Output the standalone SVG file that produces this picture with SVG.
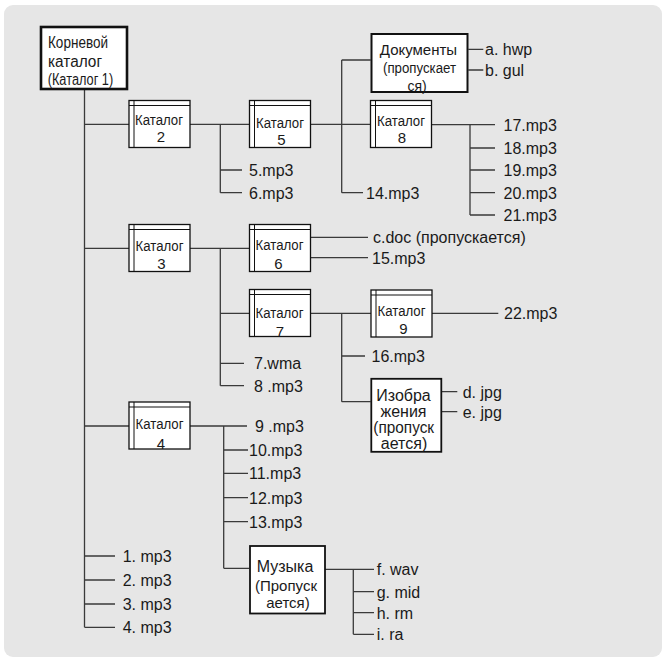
<svg xmlns="http://www.w3.org/2000/svg" width="663" height="659" viewBox="0 0 663 659">
<style>
.bg{fill:#e6e6e6}
.cat rect{fill:#fff;stroke:#111;stroke-width:1.3}
.cat path{fill:none;stroke:#111;stroke-width:1}
.box rect{fill:#fff;stroke:#111}
.t{font-family:"Liberation Sans",Arial,sans-serif;fill:#1a1a1a}
.f{font-size:16px}
.c{font-size:14px;text-anchor:middle}
.n{font-size:15px;text-anchor:middle}
.m{text-anchor:middle}
#conn path{fill:none;stroke:#3a3a3a;stroke-width:1.3}
</style>
<rect class="bg" x="4" y="5" width="658" height="652" rx="9"/>
<g id="conn">
<path d="M84.5 90V627.3M84.5 124.3H129M84.5 248.3H129M84.5 426H129M84.5 556H115M84.5 580H115M84.5 604H115M84.5 627.3H115"/>
<path d="M190 124.3H249.5M220.3 124.3V192.7M220.3 170H242M220.3 192.7H242"/>
<path d="M310.5 124.3H370.5M341.7 60V192.7M341.7 60H370.7M341.7 192.7H363"/>
<path d="M468.3 49.3H483.3M468.3 70H483.3"/>
<path d="M431.5 124.7H495M470 124.7V215M470 148H495M470 170H495M470 192.7H495M470 215H495"/>
<path d="M190 248.3H249.5M220.3 248.3V385.7M220.3 313.3H249.5M220.3 363.3H244M220.3 385.7H244"/>
<path d="M310.5 237.3H368M310.5 257.7H368"/>
<path d="M310.5 313.3H371M341.7 313.3V401.7M341.7 356H365M341.7 401.7H370.7"/>
<path d="M432 313.3H498.3"/>
<path d="M441.7 391.7H457.3M441.7 411.7H457.3"/>
<path d="M190 426H247M223.7 426V568.3M223.7 450H248M223.7 473.3H248M223.7 497.7H248M223.7 521.7H248M223.7 568.3H249.3"/>
<path d="M325 569.3H374M353.3 569.3V634.3M353.3 591.7H374M353.3 612.7H374M353.3 634.3H374"/>
</g>
<g id="root" class="box">
<rect x="41" y="27" width="86" height="62" stroke-width="2.6"/>
<text class="t" x="48" y="48.3" font-size="16" textLength="60" lengthAdjust="spacingAndGlyphs">Корневой</text>
<text class="t" x="48" y="66.7" font-size="16" textLength="54" lengthAdjust="spacingAndGlyphs">каталог</text>
<text class="t" x="47.7" y="84.5" font-size="16" textLength="65.5" lengthAdjust="spacingAndGlyphs">(Каталог 1)</text>
</g>
<g id="cat2" class="cat"><rect x="129" y="100.5" width="61" height="47"/><path d="M129 105.5H190M134 100.5V147.5"/><text class="t c" x="159" y="124.6" textLength="48" lengthAdjust="spacingAndGlyphs">Каталог</text><text class="t n" x="161" y="142.3">2</text></g>
<g id="cat5" class="cat"><rect x="249.5" y="100.5" width="61" height="47"/><path d="M249.5 105.5H310.5M254.5 100.5V147.5"/><text class="t c" x="280" y="127.8" textLength="48" lengthAdjust="spacingAndGlyphs">Каталог</text><text class="t n" x="281.5" y="145">5</text></g>
<g id="cat8" class="cat"><rect x="370.5" y="100.5" width="61" height="47"/><path d="M370.5 105.5H431.5M375.5 100.5V147.5"/><text class="t c" x="401" y="126.3" textLength="48" lengthAdjust="spacingAndGlyphs">Каталог</text><text class="t n" x="402" y="143">8</text></g>
<g id="cat3" class="cat"><rect x="129" y="224.5" width="61" height="47"/><path d="M129 229.5H190M134 224.5V271.5"/><text class="t c" x="159.5" y="251.3" textLength="48" lengthAdjust="spacingAndGlyphs">Каталог</text><text class="t n" x="161.5" y="268.8">3</text></g>
<g id="cat6" class="cat"><rect x="249.5" y="224.5" width="61" height="47"/><path d="M249.5 229.5H310.5M254.5 224.5V271.5"/><text class="t c" x="279.5" y="249.8" textLength="48" lengthAdjust="spacingAndGlyphs">Каталог</text><text class="t n" x="278.5" y="268.8">6</text></g>
<g id="cat7" class="cat"><rect x="249.5" y="289.5" width="61" height="47"/><path d="M249.5 294.5H310.5M254.5 289.5V336.5"/><text class="t c" x="279.5" y="318.1" textLength="48" lengthAdjust="spacingAndGlyphs">Каталог</text><text class="t n" x="280" y="337">7</text></g>
<g id="cat9" class="cat"><rect x="371" y="290" width="61" height="47"/><path d="M371 295H432M376 290V337"/><text class="t c" x="401.5" y="316.3" textLength="48" lengthAdjust="spacingAndGlyphs">Каталог</text><text class="t n" x="403.3" y="333.8">9</text></g>
<g id="cat4" class="cat"><rect x="129" y="402" width="61" height="47"/><path d="M129 407H190M134 402V449"/><text class="t c" x="159.5" y="428.8" textLength="48" lengthAdjust="spacingAndGlyphs">Каталог</text><text class="t n" x="161" y="449">4</text></g>
<g id="docs" class="box">
<rect x="371.5" y="34" width="96" height="58" stroke-width="2"/>
<text class="t m" x="418.5" y="54.5" font-size="15">Документы</text>
<text class="t m" x="419.5" y="73" font-size="14" textLength="73" lengthAdjust="spacingAndGlyphs">(пропускает</text>
<text class="t m" x="417" y="90.5" font-size="14">ся)</text>
</g>
<g id="images" class="box">
<rect x="371.3" y="378.8" width="70" height="73" stroke-width="1.8"/>
<text class="t m f" x="403.5" y="400.5">Изобра</text>
<text class="t m f" x="403.5" y="416.5">жения</text>
<text class="t m f" x="403.7" y="433" textLength="60.7" lengthAdjust="spacingAndGlyphs">(пропуск</text>
<text class="t m f" x="404" y="449">ается)</text>
</g>
<g id="music" class="box">
<rect x="250" y="546" width="75" height="67.5" stroke-width="1.8"/>
<text class="t m f" x="285" y="571.5">Музыка</text>
<text class="t m" x="286" y="590.5" font-size="15">(Пропуск</text>
<text class="t m" x="288" y="608" font-size="15">ается)</text>
</g>
<g id="files" class="t f">
<text x="249" y="176">5.mp3</text>
<text x="249" y="198.7">6.mp3</text>
<text x="366" y="198.7">14.mp3</text>
<text x="485" y="55.3">a. hwp</text>
<text x="485" y="76">b. gul</text>
<text x="503.5" y="130.7">17.mp3</text>
<text x="503.5" y="154">18.mp3</text>
<text x="503.5" y="176">19.mp3</text>
<text x="503.5" y="198.7">20.mp3</text>
<text x="503.5" y="221">21.mp3</text>
<text x="373" y="243.3">c.doc (пропускается)</text>
<text x="372" y="263.7">15.mp3</text>
<text x="504" y="319.3">22.mp3</text>
<text x="371.5" y="362">16.mp3</text>
<text x="462.7" y="397.7">d. jpg</text>
<text x="462.7" y="417.7">e. jpg</text>
<text x="254" y="369.3">7.wma</text>
<text x="254" y="391.7">8 .mp3</text>
<text x="255" y="432">9 .mp3</text>
<text x="249" y="456">10.mp3</text>
<text x="249" y="479.3">11.mp3</text>
<text x="249" y="503.7">12.mp3</text>
<text x="249" y="527.7">13.mp3</text>
<text x="122.7" y="562">1. mp3</text>
<text x="122.7" y="586">2. mp3</text>
<text x="122.7" y="610">3. mp3</text>
<text x="122.7" y="633.3">4. mp3</text>
<text x="376.7" y="575.3">f. wav</text>
<text x="376.7" y="597.7">g. mid</text>
<text x="376.7" y="618.7">h. rm</text>
<text x="376.7" y="640">i. ra</text>
</g>
</svg>
